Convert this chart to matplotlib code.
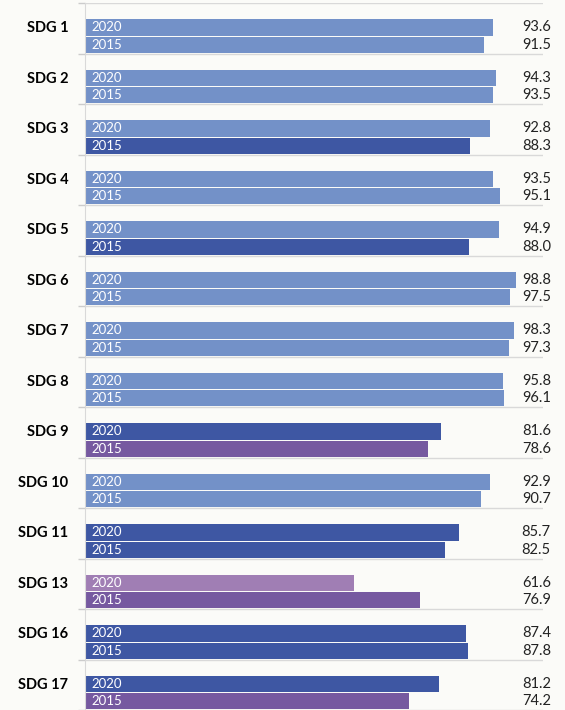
import matplotlib.pyplot as plt
import numpy as np

# 数据
goals = ['SDG 1', 'SDG 2', 'SDG 3', 'SDG 4', 'SDG 5', 'SDG 6', 'SDG 7',
         'SDG 8', 'SDG 9', 'SDG 10', 'SDG 11', 'SDG 13', 'SDG 16', 'SDG 17']
val_2020 = [93.6, 94.3, 92.8, 93.5, 94.9, 98.8, 98.3, 95.8, 81.6, 92.9, 85.7, 61.6, 87.4, 81.2]
val_2015 = [91.5, 93.5, 88.3, 95.1, 88.0, 97.5, 97.3, 96.1, 78.6, 90.7, 82.5, 76.9, 87.8, 74.2]
# 颜色类别: L=浅蓝, D=深蓝, P=紫, Q=浅紫
cls_2020 = ['L', 'L', 'L', 'L', 'L', 'L', 'L', 'L', 'D', 'L', 'D', 'Q', 'D', 'D']
cls_2015 = ['L', 'L', 'D', 'L', 'D', 'L', 'L', 'L', 'P', 'L', 'D', 'P', 'D', 'P']

palette = {'L': '#7391c8', 'D': '#3e57a3', 'P': '#7659a0', 'Q': '#a07eb4'}

plt.rcParams['font.family'] = ['Lato', 'DejaVu Sans']

fig = plt.figure(figsize=(5.65, 7.10), dpi=100, facecolor='#fbfbf8')
ax = fig.add_axes([85 / 565, 0.0, (543 - 85) / 565, 707 / 710])
ax.set_facecolor('#fbfbf8')

n = len(goals)
idx = np.arange(n)
h = 0.325
y15 = idx + 1 - 0.01 - h / 2
y20 = y15 - h - 0.02

ax.barh(y20, val_2020, height=h, color=[palette[c] for c in cls_2020])
ax.barh(y15, val_2015, height=h, color=[palette[c] for c in cls_2015])

for i in range(n):
    ax.text(1.5, y20[i], '2020', color='white', fontsize=9.5, va='center', ha='left')
    ax.text(1.5, y15[i], '2015', color='white', fontsize=9.5, va='center', ha='left')
    ax.text(106.8, y20[i], '%.1f' % val_2020[i], fontsize=10.5, va='center', ha='right',
            color='#222222', clip_on=False)
    ax.text(106.8, y15[i], '%.1f' % val_2015[i], fontsize=10.5, va='center', ha='right',
            color='#222222', clip_on=False)
    ax.text(-3.8, y20[i] + 0.02, goals[i], fontsize=10.5, fontweight='bold', va='center',
            ha='right', clip_on=False)

ax.set_xlim(0, 105)
ax.set_ylim(n, 0)
ax.set_yticks(np.arange(n + 1))
ax.set_yticklabels([])
ax.set_xticks([])
ax.tick_params(axis='y', length=5, color='#cccccc', width=1)
ax.grid(axis='y', color='#d9d9d9', linewidth=1)
ax.set_axisbelow(True)
for s in ['top', 'right', 'bottom']:
    ax.spines[s].set_visible(False)
ax.spines['left'].set_color('#d9d9d9')

plt.savefig('out.png', dpi=100, facecolor=fig.get_facecolor())
